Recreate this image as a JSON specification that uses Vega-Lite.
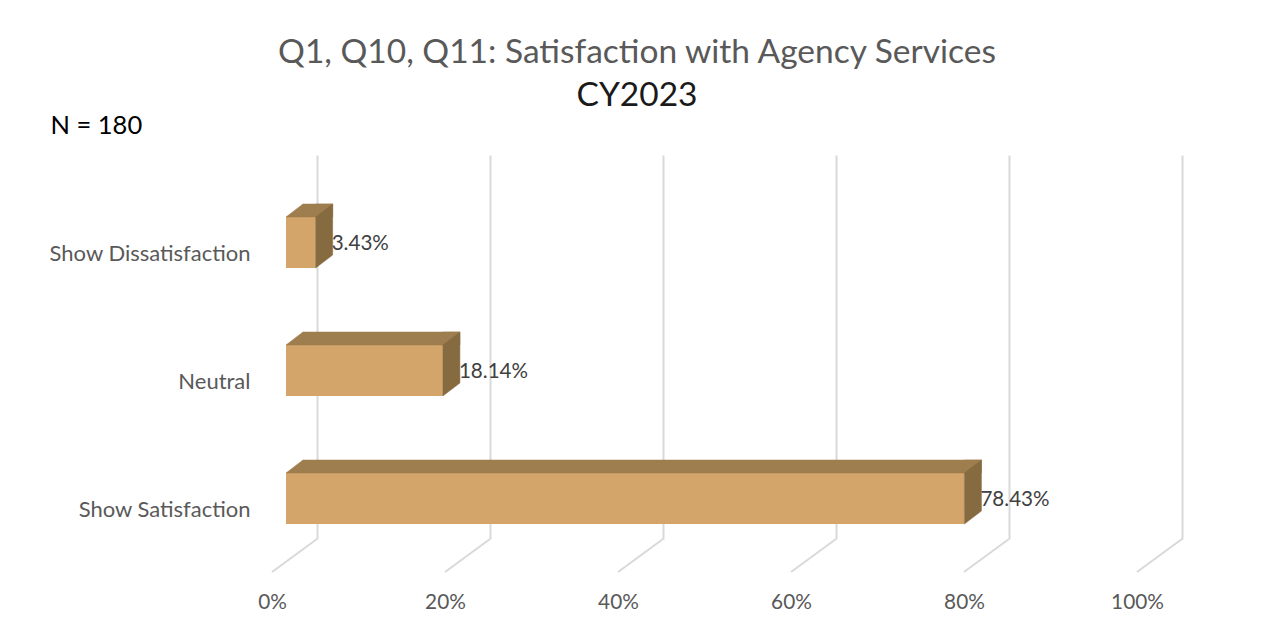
{
  "$schema": "https://vega.github.io/schema/vega-lite/v6.json",
  "autosize": {"type": "none"},
  "padding": {"left": 286, "top": 155, "right": 116, "bottom": 95},
  "width": 865,
  "height": 384,
  "background": "white",
  "config": {"view": {"stroke": null}, "font": "Lato"},
  "title": {
    "text": "Q1, Q10, Q11: Satisfaction with Agency Services",
    "subtitle": "CY2023",
    "anchor": "middle",
    "dx": -81.5,
    "font": "Lato",
    "subtitleFont": "Lato",
    "fontSize": 33.5,
    "fontWeight": "normal",
    "color": "#595959",
    "subtitleFontSize": 33.5,
    "subtitleColor": "#1a1a1a",
    "subtitlePadding": 9.5,
    "offset": 0
  },
  "datasets": {
    "bars": [
      {"category": "Show Dissatisfaction", "pct": 0.0343},
      {"category": "Neutral", "pct": 0.1814},
      {"category": "Show Satisfaction", "pct": 0.7843}
    ],
    "ticks": [
      {"pct": 0}, {"pct": 0.2}, {"pct": 0.4}, {"pct": 0.6}, {"pct": 0.8}, {"pct": 1}
    ]
  },
  "data": {"name": "bars"},
  "encoding": {
    "x": {
      "field": "pct",
      "type": "quantitative",
      "scale": {"domain": [0, 1], "nice": false, "zero": true},
      "axis": {
        "values": [0, 0.2, 0.4, 0.6, 0.8, 1],
        "format": ".0%",
        "title": null,
        "grid": true,
        "gridColor": "#D9D9D9",
        "gridWidth": 2,
        "domain": false,
        "ticks": false,
        "tickOffset": 31,
        "labelOffset": -45,
        "labelPadding": 69,
        "labelBaseline": "alphabetic",
        "labelFont": "Lato",
        "labelFontSize": 20.8,
        "labelColor": "#595959",
        "labelFlush": false,
        "labelOverlap": false
      }
    },
    "y": {
      "field": "category",
      "type": "nominal",
      "scale": {
        "domain": ["Show Dissatisfaction", "Neutral", "Show Satisfaction"],
        "paddingInner": 0,
        "paddingOuter": 0
      },
      "axis": {
        "title": "N = 180",
        "titleAngle": 0,
        "titleAlign": "left",
        "titleBaseline": "alphabetic",
        "titleX": -236,
        "titleY": -22,
        "titleFont": "Lato",
        "titleFontSize": 25.5,
        "titleFontWeight": "normal",
        "titleColor": "#000000",
        "labelFont": "Lato",
        "labelFontSize": 22,
        "labelColor": "#595959",
        "labelPadding": 36,
        "labelOffset": 35,
        "labelLimit": 0,
        "ticks": false,
        "domain": false,
        "grid": false
      }
    }
  },
  "layer": [
    {
      "data": {"name": "ticks"},
      "mark": {"type": "point", "shape": "M0,0L-45,33", "size": 4, "filled": false, "stroke": "#D9D9D9", "strokeWidth": 2, "opacity": 1, "xOffset": 31},
      "encoding": {
        "y": {"datum": "Show Satisfaction", "type": "nominal", "bandPosition": 1}
      }
    },
    {
      "mark": {"type": "bar", "size": 51, "yOffset": 23.5, "color": "#D4A56A"}
    },
    {
      "mark": {"type": "bar", "size": 13, "yOffset": -8.5, "xOffset": 17, "color": "#9E7E4E", "stroke": "#9E7E4E", "strokeWidth": 0.5}
    },
    {
      "mark": {"type": "point", "shape": "M0,-2L17,-2L17,-15Z", "size": 4, "filled": true, "opacity": 1, "color": "#9E7E4E", "stroke": "#9E7E4E", "strokeWidth": 0.5},
      "encoding": {"x": {"datum": 0, "type": "quantitative"}}
    },
    {
      "mark": {"type": "point", "shape": "M0,-2L17,-15L0,-15Z", "size": 4, "filled": true, "opacity": 1, "color": "#9E7E4E", "stroke": "#9E7E4E", "strokeWidth": 0.5}
    },
    {
      "mark": {"type": "point", "shape": "M0,-2L17,-15L17,36L0,49Z", "size": 4, "filled": true, "opacity": 1, "color": "#876B40", "stroke": "#876B40", "strokeWidth": 0.5}
    },
    {
      "mark": {"type": "text", "align": "left", "baseline": "middle", "dx": 16, "dy": 25, "font": "Lato", "fontSize": 20.6, "color": "#404040"},
      "encoding": {"text": {"field": "pct", "type": "quantitative", "format": ".2%"}}
    }
  ]
}
